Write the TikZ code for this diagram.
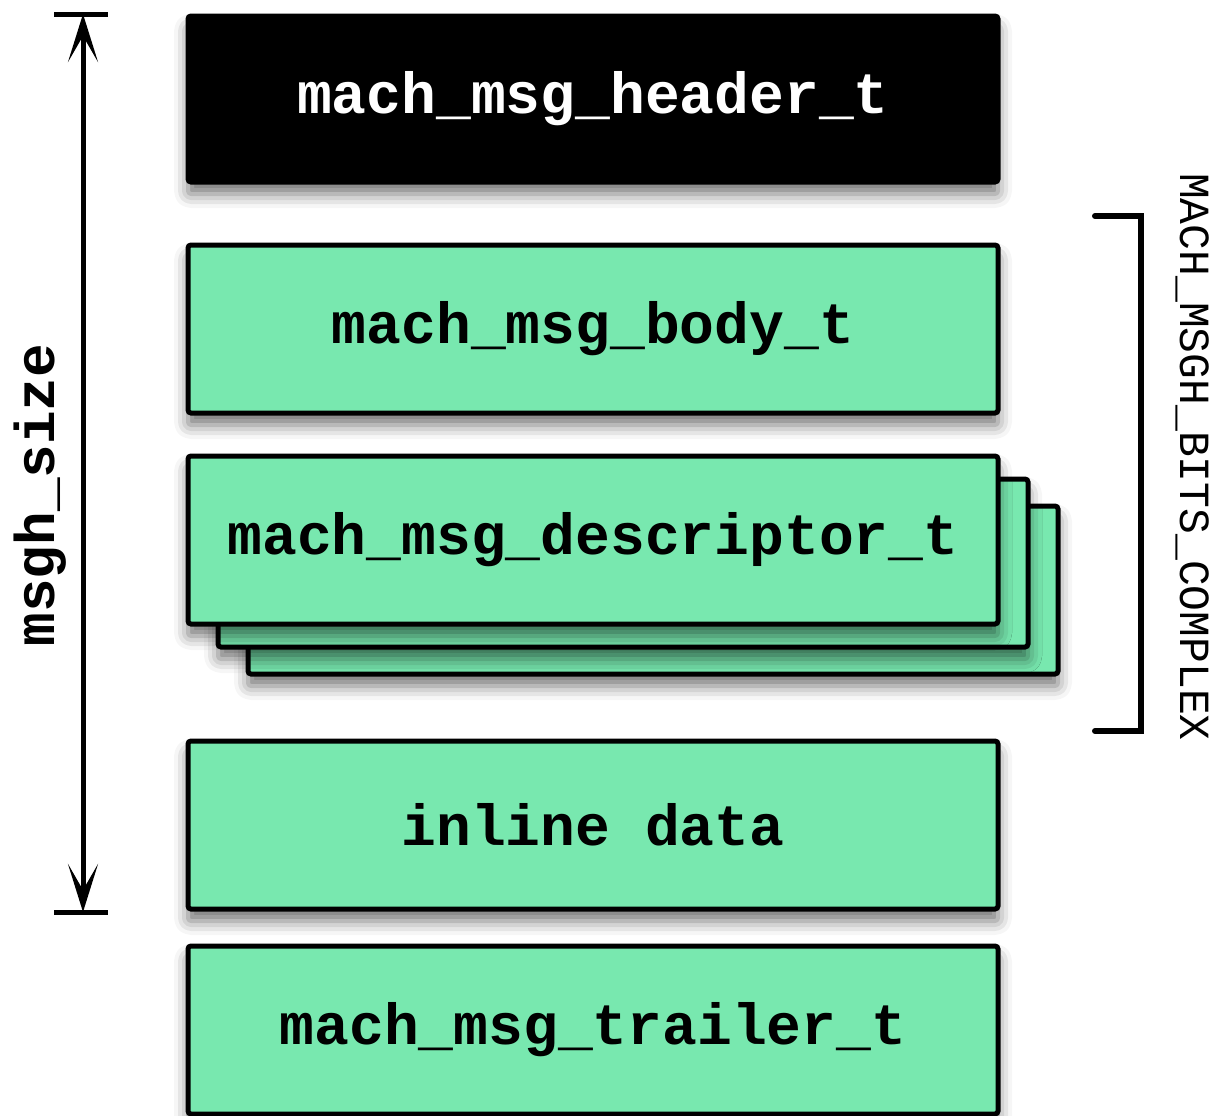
\documentclass[tikz,border=0pt]{standalone}
\usepackage{fontspec}
\usepackage{tikz}
\usetikzlibrary{arrows.meta,positioning,shadows.blur,backgrounds}
\newfontfamily\codefont{Liberation Mono}
\definecolor{msggreen}{RGB}{120,232,175}

\begin{document}
\begin{tikzpicture}[
    x=0.5pt, y=-0.5pt,
    node distance=31pt,
    >={Stealth[length=24pt, width=15pt, inset=13pt]},
    hdrbox/.style={rectangle, draw=black, fill=black, line width=2.5pt, minimum width=405pt, minimum height=83pt, rounded corners=1.5pt, text=white, font=\codefont\bfseries\fontsize{29}{30}\selectfont, blur shadow={shadow xshift=0pt, shadow yshift=-6pt, shadow blur radius=7pt, shadow opacity=55}},
    msgbox/.style={rectangle, draw=black, fill=msggreen, line width=2.5pt, minimum width=405pt, minimum height=84pt, rounded corners=1.5pt, font=\codefont\bfseries\fontsize{29}{30}\selectfont, blur shadow={shadow xshift=0pt, shadow yshift=-6pt, shadow blur radius=7pt, shadow opacity=55}},
    sizearrow/.style={<->, line width=2.5pt},
    tick/.style={line width=2.5pt},
    bracket/.style={line width=3pt, line cap=round}
]
\useasboundingbox (0,0) rectangle (1214,1115);

% Message layout
\node[hdrbox] (header) at (593,99) {mach\_msg\_header\_t};
\node[msgbox, below=29pt of header] (body) {mach\_msg\_body\_t};
\node[msgbox, below=19pt of body] (desc) {mach\_msg\_descriptor\_t};
\node[msgbox, below=56pt of desc] (inline) {inline data};
\node[msgbox, below=16pt of inline] (trailer) {mach\_msg\_trailer\_t};

% Stacked descriptors (behind)
\begin{scope}[on background layer]
\node[msgbox] (desc3) at ([shift={(60,50)}]desc.center) {};
\node[msgbox] (desc2) at ([shift={(30,23)}]desc.center) {};
\end{scope}

% Size arrow
\coordinate (sztop) at (83,14);
\coordinate (szbot) at (83,912);
\draw[tick] ([xshift=-14.5pt]sztop) -- ([xshift=12.5pt]sztop);
\draw[tick] ([xshift=-14.5pt]szbot) -- ([xshift=12.5pt]szbot);
\draw[sizearrow] (sztop) -- (szbot);
\node[rotate=90, font=\codefont\bfseries\fontsize{28}{30}\selectfont] (size) at (40,495) {msgh\_size};

% Complex bracket
\coordinate (brtop) at (1095,216);
\coordinate (brbot) at (1095,731);
\draw[bracket] (brtop) -- ++(46,0) -- ++(0,515) -- (brbot);
\node[rotate=-90, font=\codefont\fontsize{21.5}{24}\selectfont] (complex) at (1193,457) {MACH\_MSGH\_BITS\_COMPLEX};

\end{tikzpicture}
\end{document}
